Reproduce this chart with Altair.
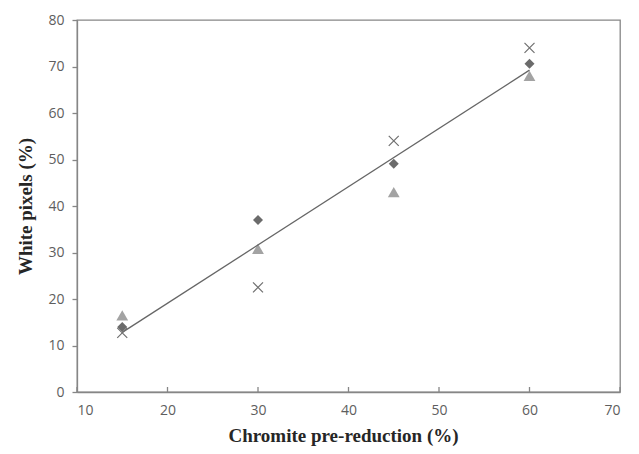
import altair as alt
import pandas as pd

# ---- data ----
x_vals = [15, 30, 45, 60]
series_diamond = [14.0, 37.0, 49.1, 70.6]
series_triangle = [16.5, 30.8, 43.0, 68.0]
series_cross = [12.7, 22.5, 54.0, 74.0]
x_ticks = [10, 20, 30, 40, 50, 60, 70]
y_ticks = [0, 10, 20, 30, 40, 50, 60, 70, 80]

rows = []
for name, vals in [("diamond", series_diamond), ("triangle", series_triangle), ("cross", series_cross)]:
    for xv, yv in zip(x_vals, vals):
        rows.append({"x": xv, "y": yv, "series": name})
df = pd.DataFrame(rows)
ticks_df = pd.DataFrame({"x": x_ticks})

W, H = 543, 372
AX = "#868686"

xscale = alt.Scale(domain=[10, 70], nice=False, zero=False)
yscale = alt.Scale(domain=[0, 80], nice=False)

xenc = alt.X("x:Q", scale=xscale,
             axis=alt.Axis(values=x_ticks, title="Chromite pre-reduction (%)",
                           ticks=False, tickSize=0, labelPadding=11, titlePadding=9,
                           titleX=266))
yenc = alt.Y("y:Q", scale=yscale,
             axis=alt.Axis(values=y_ticks, title="White pixels (%)",
                           tickSize=5, labelPadding=8, titlePadding=12))

base = alt.Chart(df)

tri = base.transform_filter(alt.datum.series == "triangle").mark_point(
    shape="triangle-up", filled=True, size=140, color="#a3a3a3", opacity=1
).encode(x=xenc, y=yenc)

line = base.transform_regression("x", "y").mark_line(
    color="#666666", strokeWidth=1.3
).encode(x=xenc, y=yenc)

dia = base.transform_filter(alt.datum.series == "diamond").mark_point(
    shape="diamond", filled=True, size=100, color="#6b6b6b", opacity=1
).encode(x=xenc, y=yenc)

crs = base.transform_filter(alt.datum.series == "cross").mark_point(
    shape="M-1,-1L1,1M-1,1L1,-1", filled=False, size=100, color="#707070",
    strokeWidth=1.2, opacity=1
).encode(x=xenc, y=yenc)

xt = alt.Chart(ticks_df).mark_rule(color=AX, strokeWidth=1.3).encode(
    x=xenc, y=alt.value(H), y2=alt.value(H - 5)
)

chart = alt.layer(xt, tri, line, dia, crs).properties(
    width=W, height=H,
    autosize=alt.AutoSizeParams(type="none"),
    padding={"left": 69, "top": 12, "right": 11, "bottom": 54},
    background="white",
).configure_view(
    stroke=AX, strokeWidth=1.3
).configure_axis(
    grid=False, domainColor=AX, domainWidth=1.3, tickColor=AX, tickWidth=1.3,
    labelFont="Open Sans", labelFontSize=14, labelColor="#5e5e5e",
    titleFont="Liberation Serif", titleFontSize=19, titleFontWeight="bold",
    titleColor="#262626",
)

chart.save("out.html", embed_options={"renderer": "svg", "actions": False})
